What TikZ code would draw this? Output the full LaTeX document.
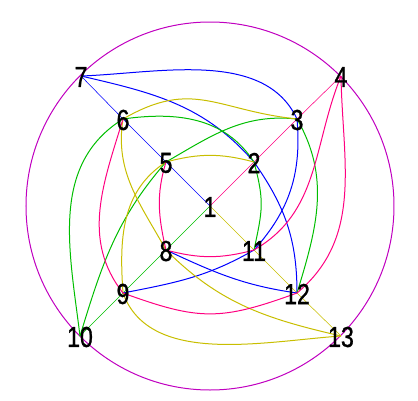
\documentclass[tikz,border=0pt]{standalone}
\usepackage{fontspec}
\setmainfont{Liberation Sans}
\newfontfamily\lblfont{Liberation Sans}[FakeBold=1.2]
\usepackage{graphicx}
\definecolor{cblue}{RGB}{0,0,255}
\definecolor{cgreen}{RGB}{0,190,0}
\definecolor{cyellow}{RGB}{200,190,0}
\definecolor{cpink}{RGB}{255,0,128}
\definecolor{cring}{RGB}{192,0,192}
\begin{document}
\begin{tikzpicture}[x=1bp,y=1bp,
  spoke/.style={line width=0.55bp},
  curve/.style={line width=1bp},
  lbl/.style={inner sep=0pt, font=\lblfont\fontsize{29}{29}\selectfont, yshift=-1bp}]
\useasboundingbox (-210,-195) rectangle (208,206);
% points
\coordinate (p1) at (0,0);
\coordinate (p2) at (44,44);
\coordinate (p3) at (87,87);
\coordinate (p4) at (131,130);
\coordinate (p5) at (-44,44);
\coordinate (p6) at (-87,87);
\coordinate (p7) at (-129,130);
\coordinate (p8) at (-44,-44);
\coordinate (p9) at (-87,-87);
\coordinate (p10) at (-130,-130);
\coordinate (p11) at (44,-44);
\coordinate (p12) at (87,-87);
\coordinate (p13) at (131,-130);
% ring
\draw[cring, line width=1bp] (p1) circle[radius=184];
% spokes
\draw[spoke, cpink] (p1) -- (p2) -- (p3) -- (p4);
\draw[spoke, cblue] (p1) -- (p5) -- (p6) -- (p7);
\draw[spoke, cgreen] (p1) -- (p8) -- (p9) -- (p10);
\draw[spoke, cyellow] (p1) -- (p11) -- (p12) -- (p13);
% blue
\draw[curve, cblue] (p7) to[out=2, in=115, looseness=0.9] (p3);
\draw[curve, cblue] (p3) to[out=-85, in=48] (p11);
\draw[curve, cblue] (p11) to[out=210, in=11] (p9);
\draw[curve, cblue] (p7) to[out=-13, in=131] (p2);
\draw[curve, cblue] (p2) to[out=-55, in=90] (p12);
\draw[curve, cblue] (p12) to[out=172, in=-25] (p8);
% green
\draw[curve, cgreen] (p10) to[out=97, in=212] (p6);
\draw[curve, cgreen] (p6) to[out=8, in=123] (p2);
\draw[curve, cgreen] (p2) to[out=-75, in=78, looseness=1.2] (p11);
\draw[curve, cgreen] (p10) to[out=73, in=229] (p5);
\draw[curve, cgreen] (p5) to[out=30, in=174] (p3);
\draw[curve, cgreen] (p3) to[out=-60, in=73] (p12);
% yellow
\draw[curve, cyellow] (p13) to[out=184, in=-70, looseness=0.9] (p9);
\draw[curve, cyellow] (p9) to[out=94, in=213] (p5);
\draw[curve, cyellow] (p5) to[out=15, in=165] (p2);
\draw[curve, cyellow] (p13) to[out=167, in=-45] (p8);
\draw[curve, cyellow] (p8) to[out=119, in=-99] (p6);
\draw[curve, cyellow] (p6) to[out=30, in=174, looseness=1.2] (p3);
% pink
\draw[curve, cpink] (p4) to[out=-89, in=40] (p12);
\draw[curve, cpink] (p12) to[out=200, in=-20, looseness=1.2] (p9);
\draw[curve, cpink] (p9) to[out=128, in=-107] (p6);
\draw[curve, cpink] (p4) to[out=-112, in=30] (p11);
\draw[curve, cpink] (p11) to[out=195, in=-15] (p8);
\draw[curve, cpink] (p8) to[out=103, in=-107] (p5);
% labels
\foreach \i in {1,...,13} {
  \node[lbl] (l\i) at (p\i) {\scalebox{0.8}[1]{\i}};
}
\end{tikzpicture}
\end{document}
